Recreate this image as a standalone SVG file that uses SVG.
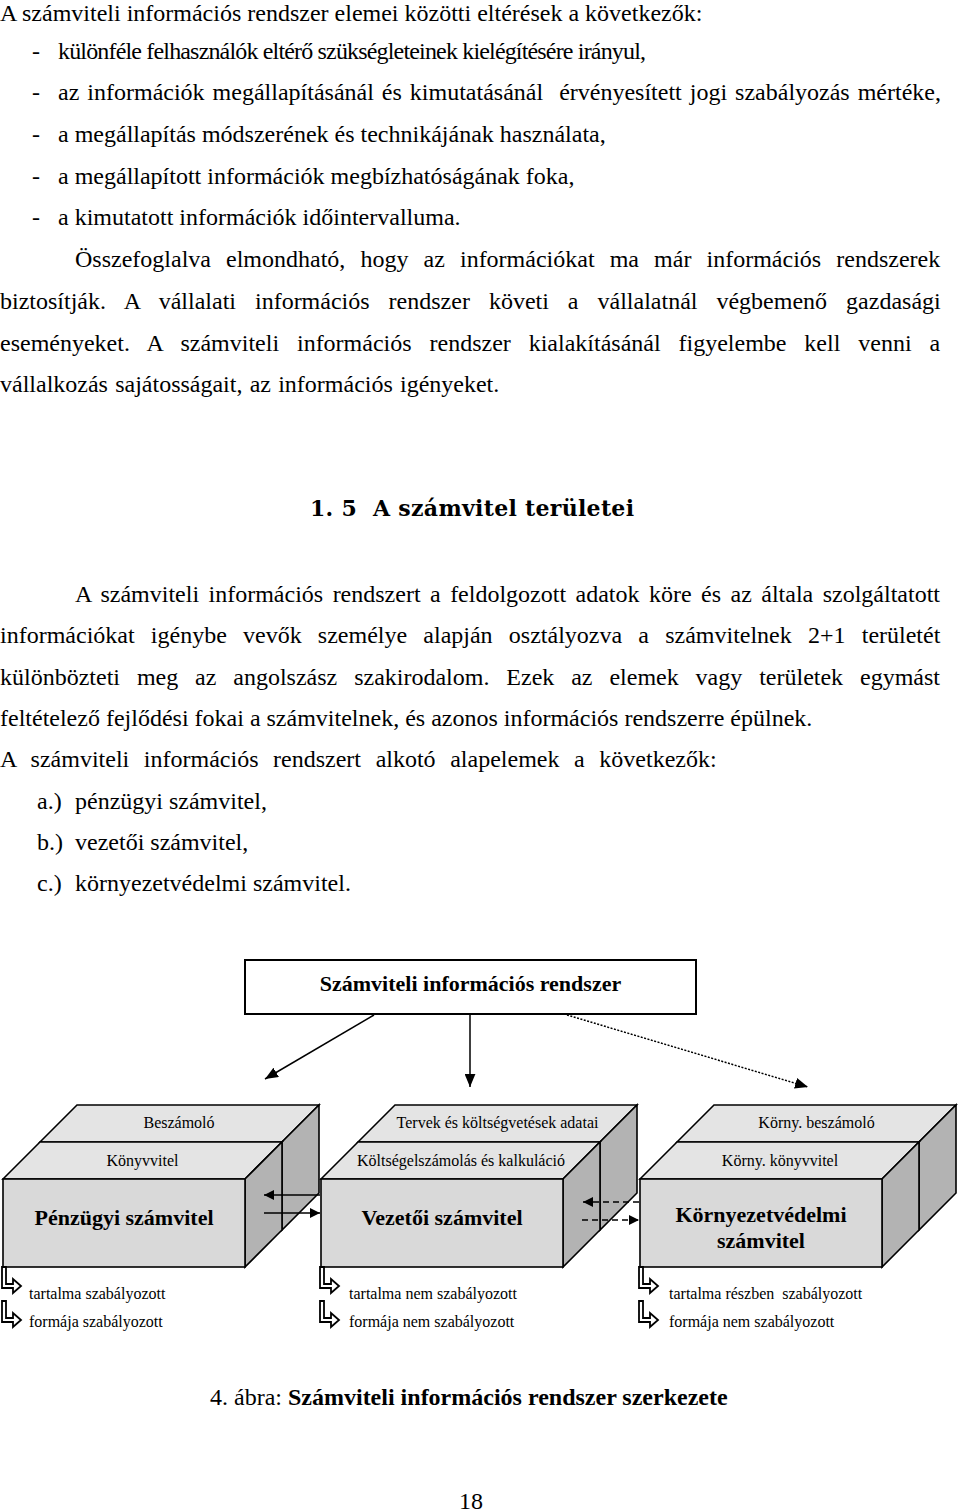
<svg xmlns="http://www.w3.org/2000/svg" width="960" height="1511" viewBox="0 0 960 1511">
<style>
.b{font-family:"Liberation Serif","Times New Roman",serif;font-size:24px;fill:#000;white-space:pre}
.h{font-family:"DejaVu Serif",serif;font-size:22px;font-weight:bold;fill:#000;white-space:pre}
.s{font-family:"Liberation Serif","Times New Roman",serif;font-size:16px;fill:#000;text-anchor:middle}
.l{font-family:"Liberation Serif","Times New Roman",serif;font-size:16px;fill:#000;white-space:pre}
.t{font-family:"Liberation Serif","Times New Roman",serif;font-size:22px;font-weight:bold;fill:#000;text-anchor:middle}
.top{fill:#e4e4e4;stroke:#000;stroke-width:1.6;stroke-linejoin:miter}
.side{fill:#b3b3b3;stroke:#000;stroke-width:1.6}
.front{fill:#d9d9d9;stroke:#000;stroke-width:1.6}
.c{stroke:#000;stroke-width:1.5;fill:none}
.bent{fill:#fff;stroke:#000;stroke-width:1.8;stroke-linejoin:miter}
</style>
<defs>
<marker id="ah" viewBox="0 0 10 10" refX="10" refY="5" markerWidth="10" markerHeight="10" markerUnits="userSpaceOnUse" orient="auto">
<path d="M0,0 L10,5 L0,10 Z" fill="#000"/>
</marker>
<marker id="ahb" viewBox="0 0 12 10" refX="12" refY="5" markerWidth="13" markerHeight="11" markerUnits="userSpaceOnUse" orient="auto">
<path d="M0,0 L12,5 L0,10 Z" fill="#000"/>
</marker>
<path id="bentArrow" d="M0,0 V21 H11 V26 L19,19 L11,12 V17 H4 V0 Z"/>
</defs>

<g id="body-text">
<text class="b" x="0" y="21">A számviteli információs rendszer elemei közötti eltérések a következők:</text>
<text class="b" x="32" y="59">-</text>
<text class="b" x="58" y="59" textLength="588" lengthAdjust="spacing">különféle felhasználók eltérő szükségleteinek kielégítésére irányul,</text>
<text class="b" x="32" y="100">-</text>
<text class="b" x="58" y="100" word-spacing="2">az információk megállapításánál és kimutatásánál  érvényesített jogi szabályozás mértéke,</text>
<text class="b" x="32" y="142">-</text>
<text class="b" x="58" y="142">a megállapítás módszerének és technikájának használata,</text>
<text class="b" x="32" y="184">-</text>
<text class="b" x="58" y="184">a megállapított információk megbízhatóságának foka,</text>
<text class="b" x="32" y="225">-</text>
<text class="b" x="58" y="225">a kimutatott információk időintervalluma.</text>
<text class="b" x="75" y="267" word-spacing="9.1">Összefoglalva elmondható, hogy az információkat ma már információs rendszerek</text>
<text class="b" x="0" y="309" word-spacing="13">biztosítják. A vállalati információs rendszer követi a vállalatnál végbemenő gazdasági</text>
<text class="b" x="0" y="351" word-spacing="11.9">eseményeket. A számviteli információs rendszer kialakításánál figyelembe kell venni a</text>
<text class="b" x="0" y="392" word-spacing="1.2">vállalkozás sajátosságait, az információs igényeket.</text>

<text class="h" x="310" y="516" textLength="324" lengthAdjust="spacing">1. 5  A számvitel területei</text>

<text class="b" x="75" y="602" word-spacing="3.45">A számviteli információs rendszert a feldolgozott adatok köre és az általa szolgáltatott</text>
<text class="b" x="0" y="643" word-spacing="10.2">információkat igénybe vevők személye alapján osztályozva a számvitelnek 2+1 területét</text>
<text class="b" x="0" y="685" word-spacing="10.9">különbözteti meg az angolszász szakirodalom. Ezek az elemek vagy területek egymást</text>
<text class="b" x="0" y="726">feltételező fejlődési fokai a számvitelnek, és azonos információs rendszerre épülnek.</text>
<text class="b" x="0" y="767" word-spacing="8.6">A számviteli információs rendszert alkotó alapelemek a következők:</text>
<text class="b" x="37" y="809">a.)<tspan x="75">pénzügyi számvitel,</tspan></text>
<text class="b" x="37" y="850">b.)<tspan x="75">vezetői számvitel,</tspan></text>
<text class="b" x="37" y="891">c.)<tspan x="75">környezetvédelmi számvitel.</tspan></text>
</g>

<g id="root">
<rect x="245" y="960" width="451" height="54" fill="#fff" stroke="#000" stroke-width="2"/>
<text class="t" x="470.5" y="991">Számviteli információs rendszer</text>
</g>

<g id="box-penzugyi">
<polygon class="top" points="40,1142 77,1105 319,1105 282,1142"/>
<polygon class="side" points="282,1142 319,1105 319,1193 282,1230"/>
<polygon class="top" points="3,1179 40,1142 282,1142 245,1179"/>
<polygon class="side" points="245,1179 282,1142 282,1230 245,1267"/>
<rect class="front" x="3" y="1179" width="242" height="88"/>
<text class="s" x="179" y="1128">Beszámoló</text>
<text class="s" x="142.5" y="1166">Könyvvitel</text>
<text class="t" x="124" y="1225">Pénzügyi számvitel</text>
</g>

<g id="box-vezetoi">
<polygon class="top" points="358,1142 395,1105 637,1105 600,1142"/>
<polygon class="side" points="600,1142 637,1105 637,1193 600,1230"/>
<polygon class="top" points="321,1179 358,1142 600,1142 563,1179"/>
<polygon class="side" points="563,1179 600,1142 600,1230 563,1267"/>
<rect class="front" x="321" y="1179" width="242" height="88"/>
<text class="s" x="497.5" y="1128">Tervek és költségvetések adatai</text>
<text class="s" x="461" y="1166">Költségelszámolás és kalkuláció</text>
<text class="t" x="442" y="1225">Vezetői számvitel</text>
</g>

<g id="box-kornyezet">
<polygon class="top" points="677,1142 714,1105 956,1105 919,1142"/>
<polygon class="side" points="919,1142 956,1105 956,1193 919,1230"/>
<polygon class="top" points="640,1179 677,1142 919,1142 882,1179"/>
<polygon class="side" points="882,1179 919,1142 919,1230 882,1267"/>
<rect class="front" x="640" y="1179" width="242" height="88"/>
<text class="s" x="816.5" y="1128">Körny. beszámoló</text>
<text class="s" x="780" y="1166">Körny. könyvvitel</text>
<text class="t" x="761" y="1222">Környezetvédelmi</text>
<text class="t" x="761" y="1248">számvitel</text>
</g>

<g id="connectors">
<line class="c" x1="374" y1="1015" x2="265" y2="1079" marker-end="url(#ahb)"/>
<line class="c" x1="470" y1="1015" x2="470" y2="1087" marker-end="url(#ahb)"/>
<line class="c" x1="567" y1="1015" x2="808" y2="1087" stroke-dasharray="2,1.5" marker-end="url(#ahb)"/>
<line class="c" x1="320" y1="1195" x2="264" y2="1195" marker-end="url(#ah)"/>
<line class="c" x1="264" y1="1213" x2="320" y2="1213" marker-end="url(#ah)"/>
<line class="c" x1="639" y1="1202" x2="583" y2="1202" stroke-dasharray="6,4" marker-end="url(#ah)"/>
<line class="c" x1="582" y1="1220" x2="639" y2="1220" stroke-dasharray="6,4" marker-end="url(#ah)"/>
</g>

<g id="labels-penzugyi">
<use href="#bentArrow" class="bent" x="2" y="1267"/>
<use href="#bentArrow" class="bent" x="2" y="1301"/>
<text class="l" x="29" y="1299">tartalma szabályozott</text>
<text class="l" x="29" y="1327">formája szabályozott</text>
</g>
<g id="labels-vezetoi">
<use href="#bentArrow" class="bent" x="320" y="1267"/>
<use href="#bentArrow" class="bent" x="320" y="1301"/>
<text class="l" x="349" y="1299">tartalma nem szabályozott</text>
<text class="l" x="349" y="1327">formája nem szabályozott</text>
</g>
<g id="labels-kornyezet">
<use href="#bentArrow" class="bent" x="639" y="1267"/>
<use href="#bentArrow" class="bent" x="639" y="1301"/>
<text class="l" x="669" y="1299">tartalma részben  szabályozott</text>
<text class="l" x="669" y="1327">formája nem szabályozott</text>
</g>

<g id="caption">
<text class="b" x="210" y="1405">4. ábra: <tspan font-weight="bold">Számviteli információs rendszer szerkezete</tspan></text>
</g>
<text class="b" x="459" y="1509">18</text>
</svg>
